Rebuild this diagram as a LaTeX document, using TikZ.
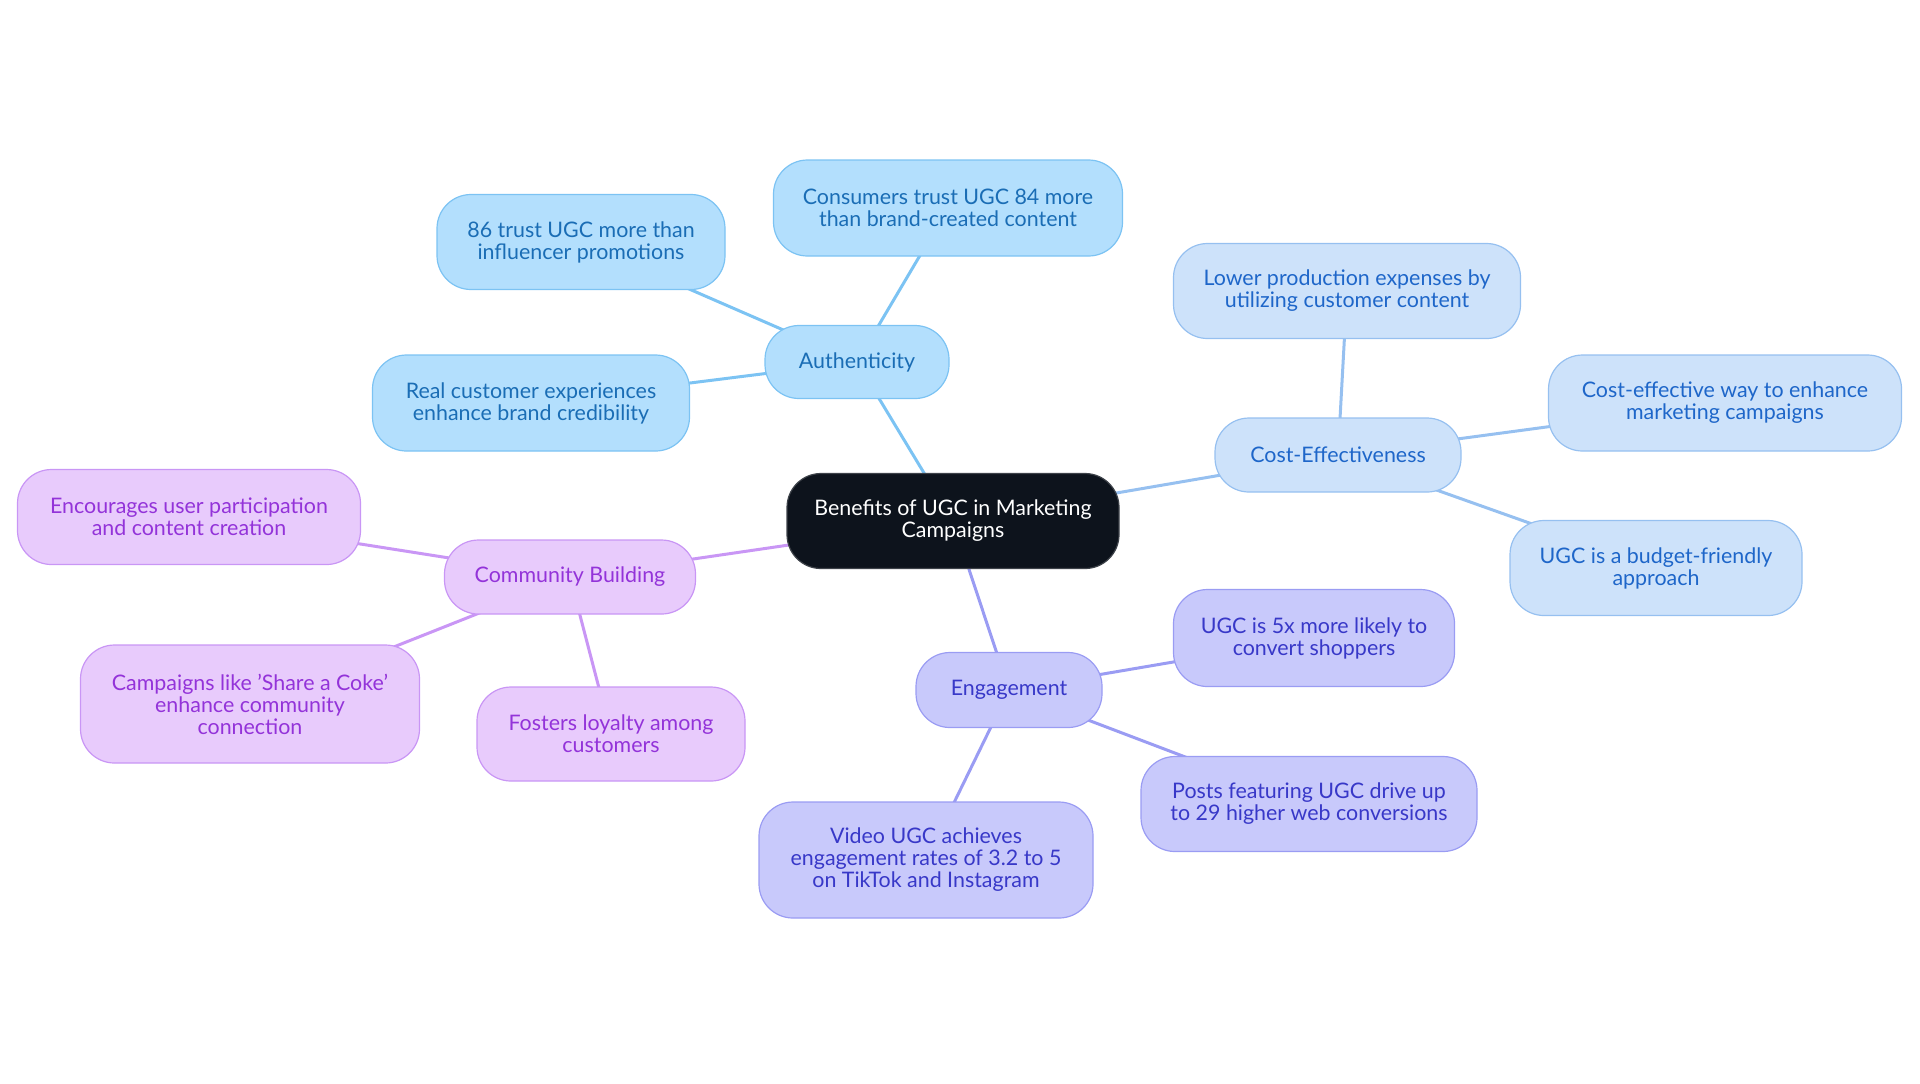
\documentclass[tikz,border=0pt]{standalone}
\usepackage{fontspec}
\setmainfont{Lato}
\usetikzlibrary{backgrounds}
\definecolor{cdark}{HTML}{0D131C}
\definecolor{afill}{HTML}{B3DFFD}
\definecolor{aline}{HTML}{7CC3F3}
\definecolor{atext}{HTML}{1A6DB5}
\definecolor{cfill}{HTML}{CDE2FA}
\definecolor{cline}{HTML}{96C0F0}
\definecolor{ctext}{HTML}{1E66C9}
\definecolor{mfill}{HTML}{E8CBFC}
\definecolor{mline}{HTML}{C996F5}
\definecolor{mtext}{HTML}{9333D9}
\definecolor{efill}{HTML}{C8C9FB}
\definecolor{eline}{HTML}{9A9CF3}
\definecolor{etext}{HTML}{3838C8}
\tikzset{
  box/.style={rounded corners=17pt, inner sep=0pt, align=center, line width=0.6pt,
    font=\fontsize{10.7}{11}\selectfont},
  rootbox/.style={box, fill=cdark, draw=cdark!80!white, text=white},
  abox/.style={box, fill=afill, draw=aline, text=atext},
  cbox/.style={box, fill=cfill, draw=cline, text=ctext},
  mbox/.style={box, fill=mfill, draw=mline, text=mtext},
  ebox/.style={box, fill=efill, draw=eline, text=etext},
  aedge/.style={draw=aline, line width=1.5pt},
  cedge/.style={draw=cline, line width=1.5pt},
  medge/.style={draw=mline, line width=1.5pt},
  eedge/.style={draw=eline, line width=1.5pt},
}
\begin{document}
\begin{tikzpicture}[x=0.5pt,y=-0.5pt]
\useasboundingbox (0,0) rectangle (1920,1083);
\node[rootbox, minimum width=166pt, minimum height=47.5pt] (root) at (953,521) {Benefits of UGC in Marketing\\Campaigns};

\node[abox, minimum width=92pt, minimum height=36.5pt] (auth) at (857,362) {Authenticity};
\node[abox, minimum width=174.5pt, minimum height=48pt] (a1) at (948,208) {Consumers trust UGC 84 more\\than brand-created content};
\node[abox, minimum width=144pt, minimum height=47.5pt] (a2) at (581,242) {86 trust UGC more than\\influencer promotions};
\node[abox, minimum width=158.5pt, minimum height=48pt] (a3) at (531,403) {Real customer experiences\\enhance brand credibility};

\node[cbox, minimum width=123pt, minimum height=37pt] (cost) at (1338,455) {Cost-Effectiveness};
\node[cbox, minimum width=173.5pt, minimum height=47.5pt] (c1) at (1347,291) {Lower production expenses by\\utilizing customer content};
\node[cbox, minimum width=176.5pt, minimum height=48pt] (c2) at (1725,403) {Cost-effective way to enhance\\marketing campaigns};
\node[cbox, minimum width=146pt, minimum height=47.5pt] (c3) at (1656,568) {UGC is a budget-friendly\\approach};

\node[ebox, minimum width=93pt, minimum height=37.5pt] (eng) at (1009,690) {Engagement};
\node[ebox, minimum width=140.5pt, minimum height=48.5pt] (e1) at (1314,638) {UGC is 5x more likely to\\convert shoppers};
\node[ebox, minimum width=168pt, minimum height=47.5pt] (e2) at (1309,804) {Posts featuring UGC drive up\\to 29 higher web conversions};
\node[ebox, minimum width=167pt, minimum height=58pt] (e3) at (926,860) {Video UGC achieves\\engagement rates of 3.2 to 5\\on TikTok and Instagram};

\node[mbox, minimum width=125.5pt, minimum height=37pt] (com) at (570,577) {Community Building};
\node[mbox, minimum width=171.5pt, minimum height=47.5pt] (m1) at (189,517) {Encourages user participation\\and content creation};
\node[mbox, minimum width=169.5pt, minimum height=59pt] (m2) at (250,704) {Campaigns like \char39Share a Coke\char39\\enhance community\\connection};
\node[mbox, minimum width=134pt, minimum height=47pt] (m3) at (611,734) {Fosters loyalty among\\customers};

\begin{scope}[on background layer]
\draw[aedge] (root.center) -- (auth.center);
\draw[aedge] (auth.center) -- (a1.center);
\draw[aedge] (auth.center) -- (a2.center);
\draw[aedge] (auth.center) -- (a3.center);
\draw[cedge] (root.center) -- (cost.center);
\draw[cedge] (cost.center) -- (c1.center);
\draw[cedge] (cost.center) -- (c2.center);
\draw[cedge] (cost.center) -- (c3.center);
\draw[eedge] (root.center) -- (eng.center);
\draw[eedge] (eng.center) -- (e1.center);
\draw[eedge] (eng.center) -- (e2.center);
\draw[eedge] (eng.center) -- (e3.center);
\draw[medge] (root.center) -- (com.center);
\draw[medge] (com.center) -- (m1.center);
\draw[medge] (com.center) -- (m2.center);
\draw[medge] (com.center) -- (m3.center);
\end{scope}
\end{tikzpicture}
\end{document}
